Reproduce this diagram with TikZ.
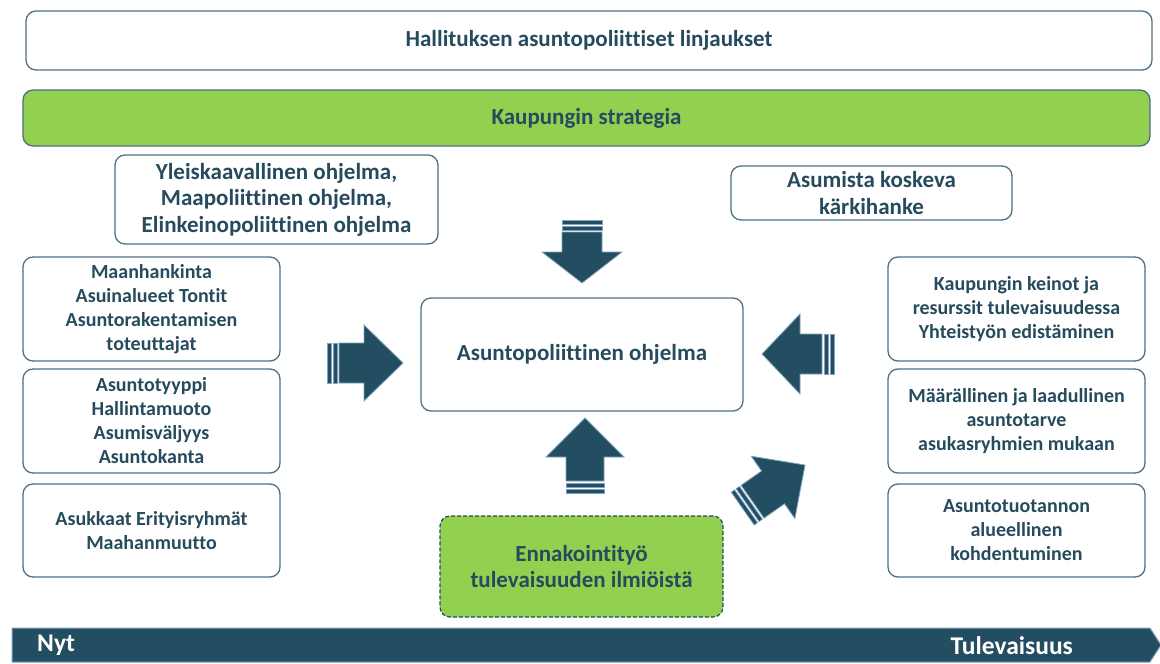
\documentclass[tikz,border=0pt]{standalone}
\usepackage{fontspec}
\setmainfont{Carlito}[Ligatures=NoCommon]
\definecolor{dark}{HTML}{234D61}
\definecolor{txt}{HTML}{264B5E}
\definecolor{border}{HTML}{4F6F83}
\definecolor{lightedge}{HTML}{7FA3BE}
\definecolor{green}{HTML}{92D050}
\newcommand\stripearrow[7]{%
\begin{scope}[shift={(#1,#2)},rotate=#3]
\filldraw[arrowsty] (0,0) -- (-#5,-#6) -- (-#5,-#7) -- (-#4+12,-#7) -- (-#4+12,#7) -- (-#5,#7) -- (-#5,#6) -- cycle;
\filldraw[arrowsty] (-#4,-#7) rectangle (-#4+4,#7);
\filldraw[arrowsty] (-#4+6,-#7) rectangle (-#4+10,#7);
\end{scope}}
\tikzset{
  box/.style={draw=border, line width=1.3pt, rounded corners=10pt, fill=white, align=center,
    inner sep=0pt, text=txt, font=\bfseries\fontsize{20}{24}\selectfont},
  bigtxt/.style={font=\bfseries\fontsize{23}{26.5}\selectfont},
  arrowsty/.style={fill=dark, draw=lightedge, line width=0.8pt, line join=miter},
  bartxt/.style={text=white, font=\bfseries\fontsize{25.5}{28}\selectfont, inner sep=0pt},
}
\begin{document}
\begin{tikzpicture}[x=1pt,y=-1pt]
\useasboundingbox (0,0) rectangle (1160,664);
% top boxes
\node[box, bigtxt, minimum width=1126pt, minimum height=59pt] (gov) at (589,40.5) {Hallituksen asuntopoliittiset linjaukset};
\node[box, bigtxt, fill=green, minimum width=1127pt, minimum height=56pt] (strat) at (586.5,118) {Kaupungin strategia};
\node[box, bigtxt, minimum width=323pt, minimum height=89pt] (yleis) at (276.5,199.5) {Yleiskaavallinen ohjelma,\\Maapoliittinen ohjelma,\\Elinkeinopoliittinen ohjelma};
\node[box, bigtxt, minimum width=281pt, minimum height=54pt] (karki) at (871.5,193) {Asumista koskeva\\kärkihanke};
% left boxes
\node[box, minimum width=257pt, minimum height=104pt] (l1) at (151.5,309) {Maanhankinta\\Asuinalueet Tontit\\Asuntorakentamisen\\toteuttajat};
\node[box, minimum width=257pt, minimum height=104pt] (l2) at (151.5,421) {Asuntotyyppi\\Hallintamuoto\\Asumisväljyys\\Asuntokanta};
\node[box, minimum width=257pt, minimum height=93pt] (l3) at (151.5,530.5) {Asukkaat Erityisryhmät\\Maahanmuutto};
% right boxes
\node[box, minimum width=257pt, minimum height=104pt] (r1) at (1016.5,309) {Kaupungin keinot ja\\resurssit tulevaisuudessa\\Yhteistyön edistäminen};
\node[box, minimum width=257pt, minimum height=104pt] (r2) at (1016.5,421) {Määrällinen ja laadullinen\\asuntotarve\\asukasryhmien mukaan};
\node[box, minimum width=257pt, minimum height=93pt] (r3) at (1016.5,530.5) {Asuntotuotannon\\alueellinen\\kohdentuminen};
% center
\node[box, bigtxt, minimum width=322pt, minimum height=113pt] (center) at (582,354.5) {Asuntopoliittinen ohjelma};
\node[box, bigtxt, fill=green, draw=dark, dash pattern=on 4pt off 2pt, line width=1.2pt, minimum width=283pt, minimum height=101pt] (enn) at (581.5,566.5) {Ennakointityö\\tulevaisuuden ilmiöistä};
% arrows
\stripearrow{403}{363}{0}{76}{39}{38}{20}
\stripearrow{582}{283}{-90}{63}{31}{40}{20}
\stripearrow{585}{418}{90}{75}{39}{39}{19}
\stripearrow{762}{354}{180}{72}{38}{40}{20}
\stripearrow{805}{465}{35}{76}{39}{38}{20}
% time bar
\coordinate (barA) at (12,628);
\coordinate (barB) at (1150,628);
\coordinate (barTip) at (1161,645);
\coordinate (barC) at (1150,662);
\coordinate (barD) at (12,662);
\filldraw[fill=dark, draw=lightedge, line width=1pt] (barA) -- (barB) -- (barTip) -- (barC) -- (barD) -- cycle;
\node[bartxt, anchor=west] (nyt) at (37,645.5) {Nyt};
\node[bartxt, anchor=east] (tul) at (1073,645.5) {Tulevaisuus};
\end{tikzpicture}
\end{document}
